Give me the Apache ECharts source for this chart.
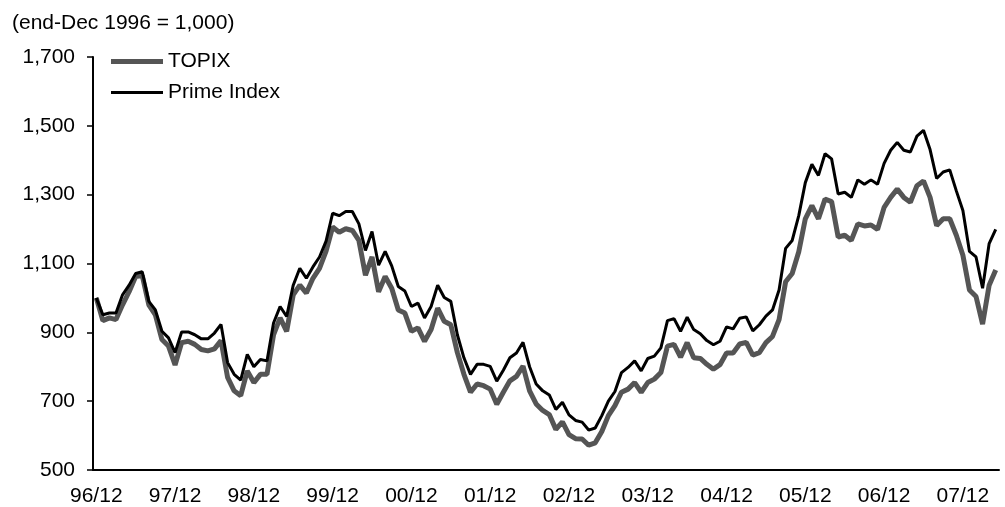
<!DOCTYPE html>
<html>
<head>
<meta charset="utf-8">
<script src="https://cdn.jsdelivr.net/npm/echarts@6/dist/echarts.min.js"></script>
<style>
html,body{margin:0;padding:0;background:#fff;}
#chart{width:1005px;height:507px;}
</style>
</head>
<body>
<div id="chart"></div>
<script>
// Monthly categories: 96/12 .. 08/05
const startYear = 1996, startMonth = 12, monthCount = 138;
const categories = [];
for (let k = 0; k < monthCount; k++) {
  const m0 = startMonth - 1 + k;
  const y = (startYear + Math.floor(m0 / 12)) % 100;
  const m = (m0 % 12) + 1;
  categories.push(String(y).padStart(2, '0') + '/' + String(m).padStart(2, '0'));
}

const topix = [
  1000, 934, 942, 937, 980, 1018, 1062, 1065, 980, 951, 879, 860,
  805, 870, 874, 865, 850, 846, 852, 876, 769, 730, 716, 788,
  754, 778, 778, 893, 942, 903, 1009, 1037, 1014, 1057, 1086, 1136,
  1206, 1191, 1201, 1196, 1167, 1066, 1119, 1018, 1062, 1028, 965, 956,
  903, 913, 874, 908, 970, 932, 922, 841, 778, 726, 750, 745,
  735, 691, 726, 759, 772, 802, 730, 692, 673, 661, 618, 640,
  603, 591, 590, 572, 579, 612, 658, 687, 726, 735, 754, 726,
  754, 764, 783, 860, 865, 828, 870, 826, 824, 807, 793, 806,
  840, 840, 866, 871, 834, 841, 870, 888, 937, 1047, 1071, 1134,
  1230, 1268, 1230, 1287, 1280, 1177, 1182, 1167, 1215, 1209, 1212, 1199,
  1263, 1292, 1316, 1292, 1278, 1326, 1340, 1292, 1210, 1230, 1230, 1182,
  1124, 1023, 1004, 924, 1037, 1081
];

const prime = [
  1000, 951, 956, 956, 1009, 1037, 1071, 1076, 990, 965, 903, 884,
  841, 901, 901, 893, 881, 881, 898, 923, 812, 778, 761, 836,
  800, 821, 817, 927, 975, 946, 1037, 1086, 1057, 1090, 1119, 1165,
  1246, 1239, 1251, 1251, 1215, 1138, 1193, 1095, 1135, 1093, 1033, 1020,
  975, 985, 942, 975, 1037, 1001, 990, 893, 826, 778, 807, 807,
  801, 758, 790, 826, 840, 871, 800, 750, 730, 718, 676, 697,
  660, 644, 639, 616, 622, 658, 700, 728, 783, 798, 817, 788,
  824, 831, 855, 934, 940, 903, 944, 908, 896, 876, 864, 874,
  916, 910, 941, 945, 904, 922, 947, 965, 1023, 1144, 1167, 1239,
  1335, 1388, 1356, 1419, 1404, 1302, 1307, 1292, 1343, 1330, 1343, 1330,
  1391, 1429, 1452, 1429, 1424, 1470, 1487, 1431, 1347, 1366, 1372, 1311,
  1254, 1135, 1119, 1028, 1158, 1199
];

const seriesNames = ['TOPIX', 'Prime Index'];
const titleText = '(end-Dec 1996 = 1,000)';
const yMin = 500, yMax = 1700, yStep = 200;

const FONT = 'Liberation Sans, Arial, sans-serif';
const FS = 21;
const legendBase = {
  orient: 'vertical',
  left: 111,
  padding: 0,
  itemWidth: 52,
  icon: 'rect',
  itemGap: 5,
  textStyle: {fontFamily: FONT, fontSize: FS, color: '#000', padding: [0, 0, 0, 0]}
};
const chart = echarts.init(document.getElementById('chart'), null, {renderer: 'canvas'});
chart.setOption({
  animation: false,
  backgroundColor: '#ffffff',
  title: {
    text: titleText,
    left: 7, top: 8,
    textStyle: {fontFamily: FONT, fontSize: FS, fontWeight: 'normal', color: '#000'}
  },
  legend: [
    Object.assign({}, legendBase, {data: [seriesNames[0]], top: 51, itemHeight: 5}),
    Object.assign({}, legendBase, {data: [seriesNames[1]], top: 82, itemHeight: 3})
  ],
  grid: {left: 93, right: 6, top: 57, bottom: 34, containLabel: false},
  xAxis: {
    type: 'category',
    data: categories,
    boundaryGap: true,
    axisLine: {lineStyle: {color: '#000', width: 2}},
    axisTick: {inside: true, length: 6, interval: 5, lineStyle: {color: '#000', width: 1.5}},
    axisLabel: {interval: 11, margin: 16, fontFamily: FONT, fontSize: FS, color: '#000'},
    splitLine: {show: false}
  },
  yAxis: {
    type: 'value',
    min: yMin, max: yMax, interval: yStep,
    axisLine: {show: true, lineStyle: {color: '#000', width: 2}},
    axisTick: {show: true, length: 6, lineStyle: {color: '#000', width: 1.5}},
    axisLabel: {
      margin: 18, fontFamily: FONT, fontSize: FS, color: '#000',
      formatter: v => v.toLocaleString('en-US')
    },
    splitLine: {show: false}
  },
  series: [
    {
      name: seriesNames[0], type: 'line', data: topix,
      symbol: 'none', showSymbol: false,
      lineStyle: {color: '#555555', width: 5},
      itemStyle: {color: '#555555'}
    },
    {
      name: seriesNames[1], type: 'line', data: prime,
      symbol: 'none', showSymbol: false,
      lineStyle: {color: '#000000', width: 3},
      itemStyle: {color: '#000000'}
    }
  ]
});
</script>
</body>
</html>
